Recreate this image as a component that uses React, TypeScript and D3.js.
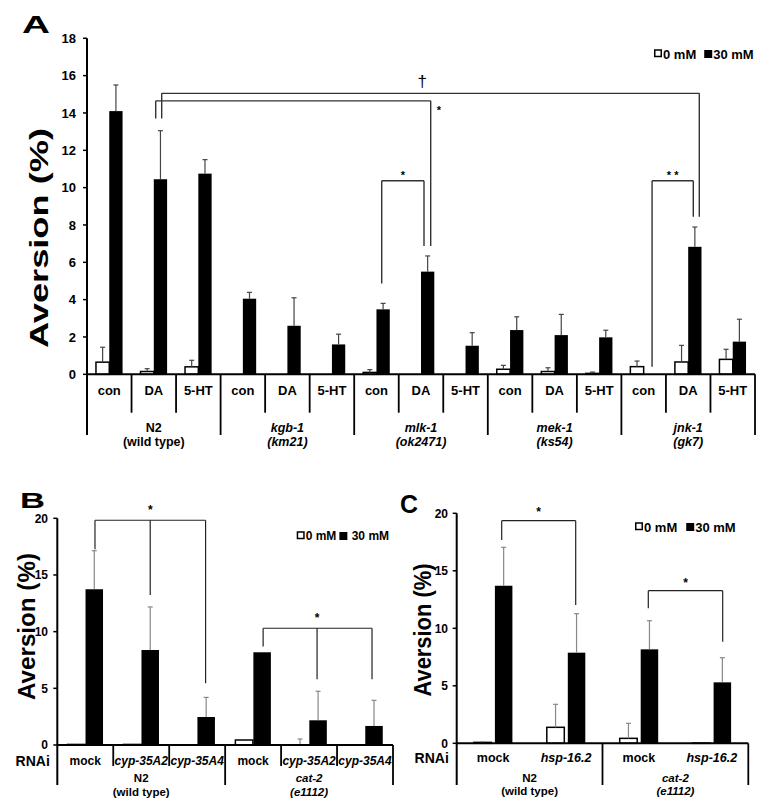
import React from "react";
import * as d3 from "d3";

const FONT = "'Liberation Sans', Arial, Helvetica, sans-serif";

// ---------- Panel A data ----------
const strainsA = ["N2", "kgb-1", "mlk-1", "mek-1", "jnk-1"];
const allelesA = ["(wild type)", "(km21)", "(ok2471)", "(ks54)", "(gk7)"];
const italicA = [false, true, true, true, true];
const treatmentsA = ["con", "DA", "5-HT"];
const a0mM = [0.65, 0.15, 0.4, 0, 0, 0, 0.1, 0, 0, 0.27, 0.15, 0.05, 0.41, 0.66, 0.8];
const a0mMErr = [0.8, 0.15, 0.35, 0, 0, 0, 0.15, 0, 0, 0.21, 0.2, 0.07, 0.3, 0.89, 0.54];
const a30mM = [14.1, 10.45, 10.75, 4.05, 2.6, 1.6, 3.48, 5.5, 1.53, 2.37, 2.1, 1.98, 0, 6.83, 1.75];
const a30mMErr = [1.4, 2.6, 0.75, 0.34, 1.5, 0.55, 0.32, 0.84, 0.7, 0.71, 1.11, 0.38, 0, 1.06, 1.2];
const ticksA = [0, 2, 4, 6, 8, 10, 12, 14, 16, 18];

// ---------- Panel B data ----------
const strainsB = ["N2", "cat-2"];
const allelesB = ["(wild type)", "(e1112)"];
const italicB = [false, true];
const rnaiB = ["mock", "cyp-35A2", "cyp-35A4", "mock", "cyp-35A2", "cyp-35A4"];
const b0mM = [0.05, 0.05, 0, 0.44, 0, 0];
const b0mMErr = [0, 0, 0, 0, 0.53, 0];
const b30mM = [13.74, 8.38, 2.47, 8.18, 2.18, 1.68];
const b30mMErr = [3.4, 3.8, 1.73, 0, 2.56, 2.26];
const ticksB = [0, 5, 10, 15, 20];

// ---------- Panel C data ----------
const strainsC = ["N2", "cat-2"];
const allelesC = ["(wild type)", "(e1112)"];
const italicC = [false, true];
const rnaiC = ["mock", "hsp-16.2", "mock", "hsp-16.2"];
const c0mM = [0.08, 1.39, 0.43, 0.02];
const c0mMErr = [0.05, 2.0, 1.31, 0];
const c30mM = [13.7, 7.88, 8.17, 5.3];
const c30mMErr = [3.34, 3.39, 2.49, 2.14];
const ticksC = [0, 5, 10, 15, 20];

const legendLabels = ["0 mM", "30 mM"];

// ---------- significance annotations ----------
type Leg = [number, number, number]; // category index, px offset from category centre, bottom value
type Bracket = { top: number; legs: Leg[]; label: string; labelCat?: number; labelDx?: number; labelY: number; labelSize: number; labelWeight?: string };

const bracketsA: Bracket[] = [
  { top: 15.05, legs: [[1, 7.9, 13.7], [13, 11.1, 8.44]], label: "†", labelCat: 7, labelDx: 1.3, labelY: 15.67, labelSize: 17, labelWeight: "normal" },
  { top: 14.65, legs: [[1, 1.9, 13.7], [7, 9.7, 6.87]], label: "*", labelCat: 7, labelDx: 18, labelY: 14.28, labelSize: 11 },
  { top: 10.37, legs: [[6, 5.25, 4.87], [7, 3, 6.87]], label: "*", labelY: 10.78, labelSize: 11 },
  { top: 10.37, legs: [[12, 8.4, 0.41], [13, 5.1, 8.44]], label: "* *", labelY: 10.78, labelSize: 11 },
];
const bracketsB: Bracket[] = [
  { top: 19.83, legs: [[0, 9.7, 17.27], [1, 9, 13.24], [2, 8.4, 5.45]], label: "*", labelCat: 1, labelDx: 9, labelY: 20.95, labelSize: 12 },
  { top: 10.3, legs: [[3, 10, 8.68], [4, 8, 5.8], [5, 7, 5.8]], label: "*", labelCat: 4, labelDx: 8, labelY: 11.47, labelSize: 12 },
];
const bracketsC: Bracket[] = [
  { top: 19.36, legs: [[0, 8.55, 17.68], [1, 9.65, 12.03]], label: "*", labelY: 20.35, labelSize: 12 },
  { top: 13.27, legs: [[2, 9.35, 11.74], [3, 10.85, 8.83]], label: "*", labelY: 14.14, labelSize: 12 },
];

type Cfg = {
  letter: string; letterX: number; letterY: number; letterSize: number; letterLen: number;
  left: number; right: number; yTopPx: number; yZeroPx: number; yMax: number; ticks: number[];
  tickLabelX: number; tickFont: number;
  titleX: number; titleY: number; titleLen: number; titleSize: number;
  barW: number; barGap: number;
  cats: string[]; catItalic: boolean[]; catFont: number; catLabelY: number; catDivBottom: number | null;
  groupSize: number; strains: string[]; alleles: string[]; strainItalic: boolean[];
  groupBottom: number; groupY1: number; groupY2: number; groupFont: number;
  rnaiX?: number; rnaiY?: number; rnaiFont?: number;
  v0: number[]; e0: number[]; v30: number[]; e30: number[];
  errColor: string; capW: number; axisW: number; bracketColor: string; bracketW: number;
  brackets: Bracket[];
  legendX: number; legendY: number; legendFont: number; legendGap: number; legendSpace: string;
};

function Panel({ c }: { c: Cfg }) {
  const keys = c.cats.map((_, i) => String(i));
  const x = d3.scaleBand<string>().domain(keys).range([c.left, c.right]).padding(0);
  const y = d3.scaleLinear().domain([0, c.yMax]).range([c.yZeroPx, c.yTopPx]);
  const bw = x.bandwidth();
  const center = (i: number) => (x(String(i)) as number) + bw / 2;
  const x0 = (i: number) => center(i) - c.barGap / 2 - c.barW;
  const x30 = (i: number) => center(i) + c.barGap / 2;
  const nGroups = c.strains.length;
  const els: React.ReactNode[] = [];

  // bars
  c.cats.forEach((_, i) => {
    if (c.v0[i] > 0) {
      els.push(<rect key={"w" + i} x={x0(i)} y={y(c.v0[i])} width={c.barW} height={y(0) - y(c.v0[i])} fill="#fff" stroke="#000" strokeWidth={1.5} />);
    }
    if (c.v30[i] > 0) {
      els.push(<rect key={"b" + i} x={x30(i)} y={y(c.v30[i])} width={c.barW} height={y(0) - y(c.v30[i])} fill="#000" />);
    }
  });
  // error bars
  const err = (key: string, cx: number, v: number, e: number) => {
    if (e <= 0) return;
    els.push(
      <g key={key} stroke={c.errColor} strokeWidth={1.2}>
        <line x1={cx} x2={cx} y1={y(v)} y2={y(v + e)} />
        <line x1={cx - c.capW / 2} x2={cx + c.capW / 2} y1={y(v + e)} y2={y(v + e)} />
      </g>
    );
  };
  c.cats.forEach((_, i) => {
    err("e0" + i, x0(i) + c.barW / 2, c.v0[i], c.e0[i]);
    err("e3" + i, x30(i) + c.barW / 2, c.v30[i], c.e30[i]);
  });

  // axes
  els.push(<line key="yaxis" x1={c.left} x2={c.left} y1={c.yTopPx} y2={c.groupBottom} stroke="#000" strokeWidth={c.axisW} />);
  els.push(<line key="xaxis" x1={c.left} x2={c.right} y1={c.yZeroPx} y2={c.yZeroPx} stroke="#000" strokeWidth={c.axisW} />);
  c.ticks.forEach((t) => {
    els.push(<line key={"tk" + t} x1={c.left - 4} x2={c.left} y1={y(t)} y2={y(t)} stroke="#000" strokeWidth={1.5} />);
    els.push(
      <text key={"tl" + t} x={c.tickLabelX} y={y(t)} dy="0.36em" textAnchor="end" fontSize={c.tickFont} fontWeight="bold">{t}</text>
    );
  });

  // category dividers and labels
  for (let i = 1; i < c.cats.length; i++) {
    const bx = x(String(i)) as number;
    if (i % c.groupSize === 0) continue;
    if (c.catDivBottom !== null) {
      els.push(<line key={"cd" + i} x1={bx} x2={bx} y1={c.yZeroPx} y2={c.catDivBottom} stroke="#000" strokeWidth={1.8} />);
    }
  }
  for (let g = 1; g <= nGroups; g++) {
    const bx = g === nGroups ? c.right : (x(String(g * c.groupSize)) as number);
    els.push(<line key={"gd" + g} x1={bx} x2={bx} y1={c.yZeroPx} y2={c.groupBottom} stroke="#000" strokeWidth={1.8} />);
  }
  c.cats.forEach((lab, i) => {
    els.push(
      <text key={"cl" + i} x={center(i)} y={c.catLabelY} dy="0.36em" textAnchor="middle" fontSize={c.catFont} fontWeight="bold" fontStyle={c.catItalic[i] ? "italic" : "normal"}>{lab}</text>
    );
  });
  c.strains.forEach((s, g) => {
    const gx0 = x(String(g * c.groupSize)) as number;
    const gx1 = gx0 + bw * c.groupSize;
    const gx = (gx0 + gx1) / 2;
    const st = c.strainItalic[g] ? "italic" : "normal";
    els.push(<text key={"g1" + g} x={gx} y={c.groupY1} dy="0.36em" textAnchor="middle" fontSize={c.groupFont} fontWeight="bold" fontStyle={st}>{s}</text>);
    els.push(<text key={"g2" + g} x={gx} y={c.groupY2} dy="0.36em" textAnchor="middle" fontSize={c.groupFont} fontWeight="bold" fontStyle={st}>{c.alleles[g]}</text>);
  });
  if (c.rnaiX !== undefined) {
    els.push(<text key="rnai" x={c.rnaiX} y={c.rnaiY} dy="0.36em" textAnchor="middle" fontSize={c.rnaiFont} fontWeight="bold">RNAi</text>);
  }

  // brackets
  c.brackets.forEach((b, bi) => {
    const lx = b.legs.map(([ci, dx]) => center(ci) + dx);
    const minX = Math.min(...lx), maxX = Math.max(...lx);
    const ty = y(b.top);
    els.push(<line key={"bh" + bi} x1={minX} x2={maxX} y1={ty} y2={ty} stroke={c.bracketColor} strokeWidth={c.bracketW} />);
    b.legs.forEach(([ci, dx, bot], li) => {
      const xx = center(ci) + dx;
      els.push(<line key={"bl" + bi + "_" + li} x1={xx} x2={xx} y1={ty} y2={y(bot)} stroke={c.bracketColor} strokeWidth={c.bracketW} />);
    });
    const labX = b.labelCat !== undefined ? center(b.labelCat) + (b.labelDx || 0) : (minX + maxX) / 2;
    const isDagger = b.label === "†";
    const base = y(b.labelY) + (isDagger ? 0.3 : 0.56) * b.labelSize;
    els.push(
      <text key={"bt" + bi} x={labX} y={base} textAnchor="middle" fontSize={b.labelSize} fontWeight={b.labelWeight || "bold"}>{b.label}</text>
    );
  });

  // legend
  const sq = 8;
  const lf = c.legendFont;
  const w1 = d3.sum([0.556, 0.278, 0.889, 0.833]) * lf;
  els.push(<rect key="lg0" x={c.legendX + 0.75} y={c.legendY - sq / 2} width={sq - 1.5} height={sq - 1.5} fill="#fff" stroke="#000" strokeWidth={1.5} />);
  els.push(<text key="lt0" x={c.legendX + sq + 1} y={c.legendY} dy="0.36em" fontSize={lf} fontWeight="bold">{legendLabels[0]}</text>);
  const x2 = c.legendX + sq + 1 + w1 + c.legendGap;
  els.push(<rect key="lg1" x={x2} y={c.legendY - sq / 2} width={sq} height={sq} fill="#000" />);
  els.push(<text key="lt1" x={x2 + sq + 1} y={c.legendY} dy="0.36em" fontSize={lf} fontWeight="bold" style={{ whiteSpace: "pre" }}>{c.legendSpace + legendLabels[1]}</text>);

  // title and letter
  els.push(
    <text key="title" transform={`translate(${c.titleX},${c.titleY}) rotate(-90)`} dy="0.36em" textAnchor="middle" fontSize={c.titleSize} fontWeight="bold" textLength={c.titleLen} lengthAdjust="spacingAndGlyphs">Aversion (%)</text>
  );
  els.push(
    <text key="letter" x={c.letterX} y={c.letterY} dy="0.36em" textAnchor="middle" fontSize={c.letterSize} fontWeight="bold" textLength={c.letterLen} lengthAdjust="spacingAndGlyphs">{c.letter}</text>
  );
  return <g>{els}</g>;
}

const catsA = strainsA.flatMap(() => treatmentsA);

const cfgA: Cfg = {
  letter: "A", letterX: 36, letterY: 24, letterSize: 24, letterLen: 28,
  left: 87, right: 755, yTopPx: 38.3, yZeroPx: 374.3, yMax: 18, ticks: ticksA,
  tickLabelX: 76, tickFont: 13,
  titleX: 39, titleY: 238, titleLen: 220, titleSize: 25,
  barW: 13.3, barGap: 0,
  cats: catsA, catItalic: catsA.map(() => false), catFont: 13, catLabelY: 390, catDivBottom: 412.7,
  groupSize: 3, strains: strainsA, alleles: allelesA, strainItalic: italicA,
  groupBottom: 435, groupY1: 427, groupY2: 441, groupFont: 12.5,
  v0: a0mM, e0: a0mMErr, v30: a30mM, e30: a30mMErr,
  errColor: "#444", capW: 5, axisW: 2, bracketColor: "#333", bracketW: 1.4,
  brackets: bracketsA,
  legendX: 654, legendY: 54, legendFont: 13, legendGap: 8, legendSpace: "",
};

const cfgB: Cfg = {
  letter: "B", letterX: 32.5, letterY: 500.5, letterSize: 22, letterLen: 25,
  left: 57.3, right: 393, yTopPx: 518.3, yZeroPx: 745, yMax: 20, ticks: ticksB,
  tickLabelX: 48, tickFont: 12,
  titleX: 26, titleY: 626.5, titleLen: 147, titleSize: 24,
  barW: 17.5, barGap: 0.5,
  cats: rnaiB, catItalic: rnaiB.map((r) => r !== "mock"), catFont: 12, catLabelY: 761, catDivBottom: 766,
  groupSize: 3, strains: strainsB, alleles: allelesB, strainItalic: italicB,
  groupBottom: 785, groupY1: 778.3, groupY2: 791.5, groupFont: 11.5,
  rnaiX: 32.7, rnaiY: 761, rnaiFont: 14,
  v0: b0mM, e0: b0mMErr, v30: b30mM, e30: b30mMErr,
  errColor: "#888", capW: 5, axisW: 2, bracketColor: "#222", bracketW: 1.2,
  brackets: bracketsB,
  legendX: 296.7, legendY: 536, legendFont: 12, legendGap: 3, legendSpace: " ",
};

const cfgC: Cfg = {
  letter: "C", letterX: 409, letterY: 504, letterSize: 25, letterLen: 18,
  left: 456.7, right: 748.3, yTopPx: 513.3, yZeroPx: 743.3, yMax: 20, ticks: ticksC,
  tickLabelX: 448, tickFont: 12,
  titleX: 422, titleY: 630, titleLen: 133, titleSize: 24,
  barW: 17.5, barGap: 3.5,
  cats: rnaiC, catItalic: rnaiC.map((r) => r !== "mock"), catFont: 12.5, catLabelY: 757.7, catDivBottom: null,
  groupSize: 2, strains: strainsC, alleles: allelesC, strainItalic: italicC,
  groupBottom: 785, groupY1: 778, groupY2: 791.2, groupFont: 11.5,
  rnaiX: 431.7, rnaiY: 757.7, rnaiFont: 14,
  v0: c0mM, e0: c0mMErr, v30: c30mM, e30: c30mMErr,
  errColor: "#888", capW: 5, axisW: 2, bracketColor: "#222", bracketW: 1.2,
  brackets: bracketsC,
  legendX: 635, legendY: 527, legendFont: 13, legendGap: 9, legendSpace: "",
};

export default function App() {
  return (
    <svg
      width={770}
      height={812}
      viewBox="0 0 770 812"
      style={{ position: "absolute", left: 0, top: 0, background: "#fff" }}
      fontFamily={FONT}
    >
      <rect x={0} y={0} width={770} height={812} fill="#fff" />
      <Panel c={cfgA} />
      <Panel c={cfgB} />
      <Panel c={cfgC} />
    </svg>
  );
}
